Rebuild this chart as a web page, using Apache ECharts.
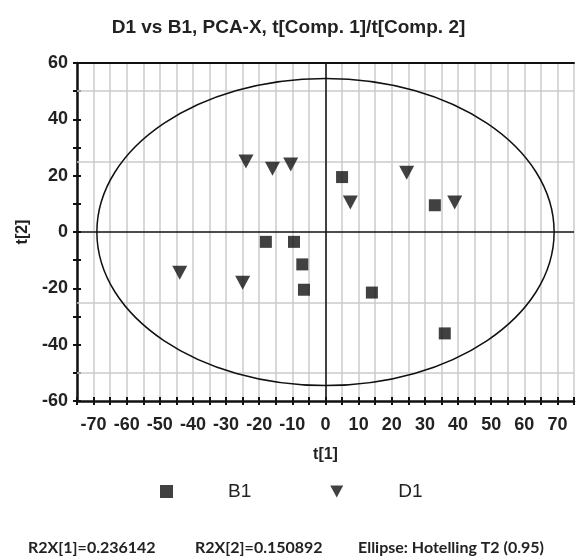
<!DOCTYPE html>
<html>
<head>
<meta charset="utf-8">
<script src="https://cdn.jsdelivr.net/npm/echarts@6/dist/echarts.min.js"></script>
<style>
  html, body { margin: 0; padding: 0; background: #fff; }
  #main { width: 577px; height: 558px; }
</style>
</head>
<body>
<div id="main"></div>
<script>
// score plot values
const b1X = [-18, -9.5, 5, 33, -7, -6.5, 14, 36];
const b1Y = [-3.5, -3.5, 19.5, 9.5, -11.5, -20.5, -21.5, -36];
const d1X = [-24, -16, -10.5, 24.5, 7.5, 39, -44, -25];
const d1Y = [25, 22.5, 24, 21, 10.5, 10.5, -14.5, -18];

// hotelling ellipse (centre, semi axes)
const ellipseCenter = [0, 0];
const ellipseRadii = [69, 54.5];

// horizontal reference lines
const hLines = [-50, -25, 25, 50];

const footerTexts = ['R2X[1]=0.236142', 'R2X[2]=0.150892', 'Ellipse: Hotelling T2 (0.95)'];

const triDown = 'path://M0,0L14,0L7,13Z';
const ink = '#111';

const chart = echarts.init(document.getElementById('main'));

const xBase = { type: 'value', min: -75, max: 75, interval: 5, gridIndex: 0 };
const yBase = { type: 'value', min: -60, max: 60, interval: 10, gridIndex: 0 };

const option = {
  animation: false,
  title: {
    text: 'D1 vs B1, PCA-X, t[Comp. 1]/t[Comp. 2]',
    left: 'center',
    top: 18,
    padding: 0,
    textStyle: { fontFamily: 'Liberation Sans', fontSize: 19, fontWeight: 'bold', color: '#222' }
  },
  legend: {
    left: 160,
    top: 482,
    padding: 0,
    itemWidth: 13,
    itemHeight: 13,
    itemGap: 79,
    data: [{ name: 'B1', icon: 'rect' }, { name: 'D1', icon: triDown }],
    textStyle: { fontFamily: 'Liberation Sans', fontSize: 19, color: '#222', padding: [0, 0, 0, 50] }
  },
  grid: { left: 77, top: 63, right: 1, bottom: 157 },
  xAxis: [
    Object.assign({}, xBase, {
      position: 'bottom',
      name: 't[1]',
      nameLocation: 'middle',
      nameGap: 46,
      nameTextStyle: { fontFamily: 'Liberation Sans', fontSize: 16, fontWeight: 'bold', color: '#222' },
      axisLine: { onZero: false, lineStyle: { color: ink, width: 2.5 } },
      axisTick: { length: 4, lineStyle: { color: ink, width: 2 } },
      axisLabel: {
        margin: 15,
        fontFamily: 'Liberation Sans', fontSize: 18, fontWeight: 'bold', color: '#222',
        formatter: v => (v % 10 === 0 && Math.abs(v) < 75 ? String(v) : '')
      },
      splitLine: { show: true, lineStyle: { color: '#cbcbcb', width: 1.5, type: 'solid' } }
    }),
    Object.assign({}, xBase, {
      position: 'bottom',
      axisLine: { show: false, onZero: false },
      axisTick: { inside: true, length: 4, lineStyle: { color: ink, width: 2 } },
      axisLabel: { show: false },
      splitLine: { show: false }
    }),
    Object.assign({}, xBase, {
      position: 'top',
      axisLine: { onZero: false, lineStyle: { color: ink, width: 2 } },
      axisTick: { show: false },
      axisLabel: { show: false },
      splitLine: { show: false }
    })
  ],
  yAxis: [
    Object.assign({}, yBase, {
      position: 'left',
      name: 't[2]',
      nameLocation: 'middle',
      nameGap: 46,
      nameTextStyle: { fontFamily: 'Liberation Sans', fontSize: 16, fontWeight: 'bold', color: '#222' },
      axisLine: { onZero: false, lineStyle: { color: ink, width: 2.5 } },
      axisTick: { length: 4, lineStyle: { color: ink, width: 2 } },
      axisLabel: {
        margin: 9,
        fontFamily: 'Liberation Sans', fontSize: 18, fontWeight: 'bold', color: '#222',
        formatter: v => (v % 20 === 0 ? String(v) : '')
      },
      splitLine: { show: false }
    }),
    Object.assign({}, yBase, {
      position: 'left',
      axisLine: { show: false, onZero: false },
      axisTick: { inside: true, length: 4, lineStyle: { color: ink, width: 2 } },
      axisLabel: { show: false },
      splitLine: { show: false }
    })
  ],
  graphic: footerTexts.map((t, i) => ({
    type: 'text',
    left: [28, 195, 358][i],
    top: 540,
    style: { text: t, font: 'bold 16px Lato', fill: '#222' }
  })),
  series: [
    {
      name: 'grid lines',
      type: 'line',
      data: [],
      silent: true,
      z: 1,
      markLine: {
        z: 1,
        symbol: 'none',
        silent: true,
        label: { show: false },
        animation: false,
        data: hLines.map(v => ({ yAxis: v, lineStyle: { color: '#cbcbcb', width: 1.5, type: 'solid' } }))
          .concat([
            { yAxis: 0, lineStyle: { color: ink, width: 1.5, type: 'solid' } },
            { xAxis: 0, lineStyle: { color: ink, width: 1.5, type: 'solid' } }
          ])
      }
    },
    {
      name: 'ellipse',
      type: 'custom',
      silent: true,
      z: 2,
      data: [[ellipseCenter[0], ellipseCenter[1], ellipseRadii[0], ellipseRadii[1]]],
      renderItem: function (params, api) {
        const c = api.coord([api.value(0), api.value(1)]);
        const s = api.size([api.value(2), api.value(3)]);
        return {
          type: 'ellipse',
          shape: { cx: c[0], cy: c[1], rx: s[0], ry: s[1] },
          style: { fill: 'none', stroke: ink, lineWidth: 1.5 }
        };
      }
    },
    {
      name: 'B1',
      type: 'scatter',
      z: 6,
      symbol: 'rect',
      symbolSize: 12,
      itemStyle: { color: ink },
      data: b1X.map((x, i) => [x, b1Y[i]])
    },
    {
      name: 'D1',
      type: 'scatter',
      z: 6,
      symbol: triDown,
      symbolSize: [15, 14],
      itemStyle: { color: ink },
      data: d1X.map((x, i) => [x, d1Y[i]])
    }
  ]
};

chart.setOption(option);
</script>
</body>
</html>
